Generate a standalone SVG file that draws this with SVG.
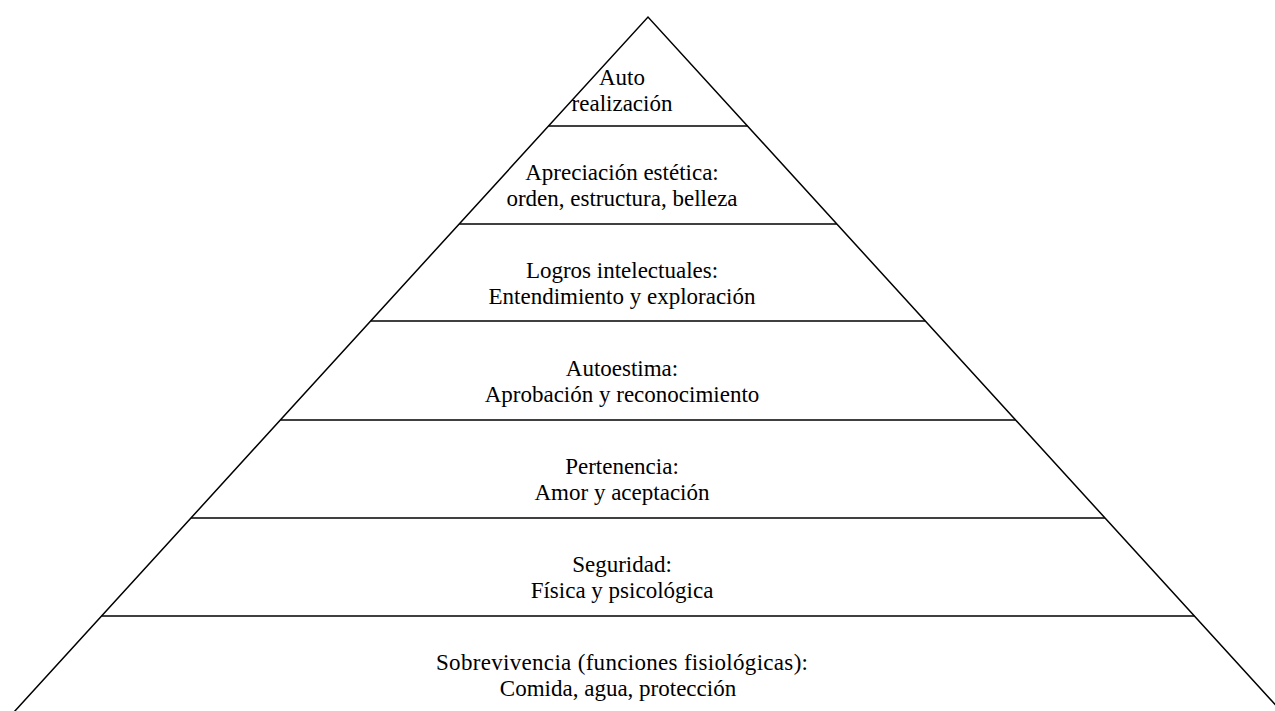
<svg xmlns="http://www.w3.org/2000/svg" width="1275" height="711" viewBox="0 0 1275 711">
<style>
.ln{stroke:#000;stroke-width:1.5;fill:none}
.t{font-family:"Liberation Serif","Times New Roman",serif;font-size:23px;fill:#000;text-anchor:middle}
</style>
<rect width="1275" height="711" fill="#fff"/>
<g id="connectors">
<polyline class="ln" points="14,712 648,17 1282,712"/>
<line class="ln" x1="548.6" y1="126" x2="747.4" y2="126"/>
<line class="ln" x1="459.2" y1="224" x2="836.8" y2="224"/>
<line class="ln" x1="370.8" y1="321" x2="925.2" y2="321"/>
<line class="ln" x1="280.5" y1="420" x2="1015.5" y2="420"/>
<line class="ln" x1="191.1" y1="518" x2="1104.9" y2="518"/>
<line class="ln" x1="101.7" y1="616" x2="1194.3" y2="616"/>
</g>
<g id="n1"><text class="t" x="622" y="85">Auto</text><text class="t" x="622" y="111">realización</text></g>
<g id="n2"><text class="t" x="622" y="180">Apreciación estética:</text><text class="t" x="622" y="206">orden, estructura, belleza</text></g>
<g id="n3"><text class="t" x="622" y="278">Logros intelectuales:</text><text class="t" x="622" y="304">Entendimiento y exploración</text></g>
<g id="n4"><text class="t" x="622" y="376">Autoestima:</text><text class="t" x="622" y="402">Aprobación y reconocimiento</text></g>
<g id="n5"><text class="t" x="622" y="474">Pertenencia:</text><text class="t" x="622" y="500">Amor y aceptación</text></g>
<g id="n6"><text class="t" x="622" y="572">Seguridad:</text><text class="t" x="622" y="598">Física y psicológica</text></g>
<g id="n7"><text class="t" x="622" y="670" textLength="372" lengthAdjust="spacing">Sobrevivencia (funciones fisiológicas):</text><text class="t" x="618" y="696">Comida, agua, protección</text></g>
</svg>
